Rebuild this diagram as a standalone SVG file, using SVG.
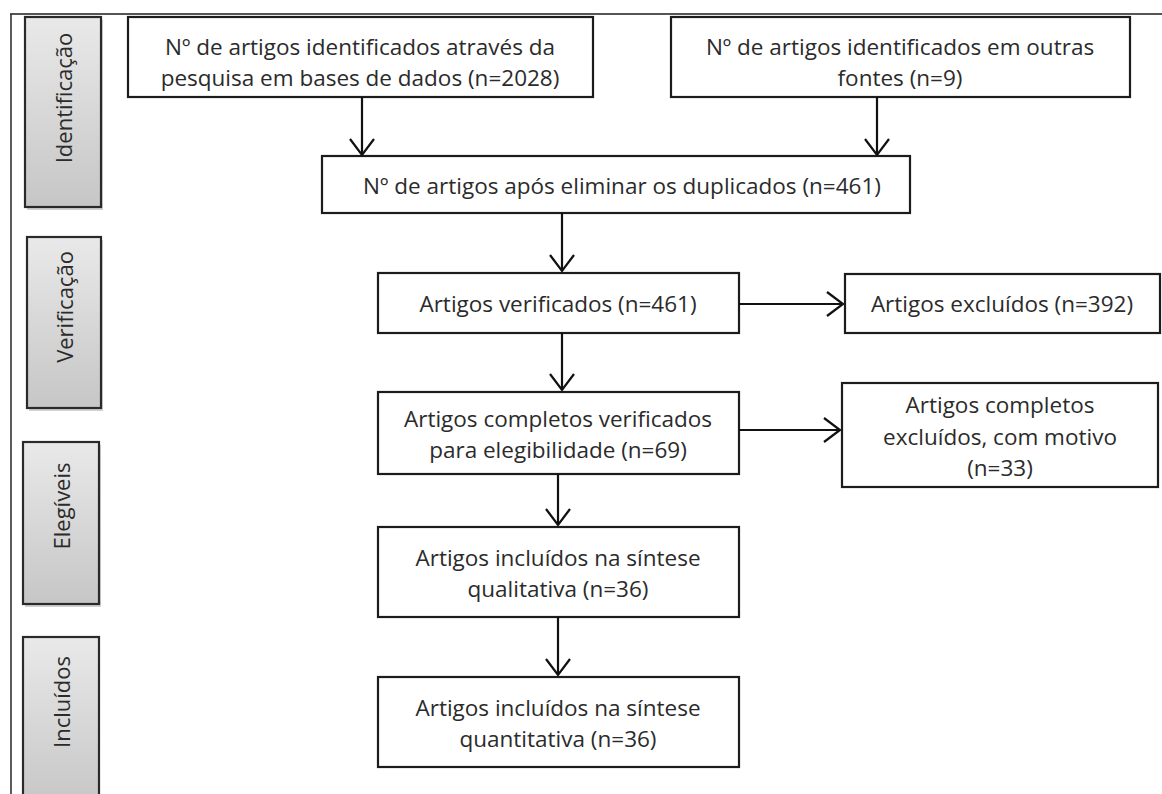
<svg xmlns="http://www.w3.org/2000/svg" width="1162" height="794" viewBox="0 0 1162 794">
<style>
.box{fill:#fff;stroke:#1c1c1c;stroke-width:2.2}
.phase{fill:url(#pg);stroke:#2a2a2a;stroke-width:2.2}
.shadow{fill:#999;opacity:0.45}
.t{font-family:"Open Sans","Liberation Sans",sans-serif;font-size:22.5px;fill:#2b2b2b;text-anchor:middle;dominant-baseline:central}
.pt{font-family:"Open Sans","Liberation Sans",sans-serif;font-size:22px;fill:#2b2b2b;text-anchor:middle;dominant-baseline:central}
.c{stroke:#111;stroke-width:2.2;fill:none}
</style>
<defs>
<linearGradient id="pg" x1="0" y1="0" x2="0" y2="1">
<stop offset="0" stop-color="#e9e9e9"/>
<stop offset="1" stop-color="#c6c6c6"/>
</linearGradient>
<marker id="arr" markerUnits="userSpaceOnUse" markerWidth="24" markerHeight="28" viewBox="-18 -14 24 28" refX="0" refY="0" orient="auto" overflow="visible">
<path d="M-16,-12 L0,0 L-16,12" fill="none" stroke="#111" stroke-width="2.2"/>
</marker>
</defs>
<rect width="1162" height="794" fill="#fff"/>
<g id="frame">
<line x1="10" y1="14" x2="1162" y2="14" stroke="#555" stroke-width="2.2"/>
<line x1="11" y1="14" x2="11" y2="794" stroke="#333" stroke-width="1.6"/>
</g>
<g id="phase-identificacao">
<rect class="shadow" x="27" y="20" width="76" height="190"/>
<rect class="phase" x="25" y="17" width="76" height="190"/>
<text class="pt" transform="translate(63,98) rotate(-90)">Identificação</text>
</g>
<g id="phase-verificacao">
<rect class="shadow" x="29" y="240" width="74" height="171"/>
<rect class="phase" x="27" y="237" width="74" height="171"/>
<text class="pt" transform="translate(64,307) rotate(-90)">Verificação</text>
</g>
<g id="phase-elegiveis">
<rect class="shadow" x="25" y="445" width="76" height="162"/>
<rect class="phase" x="23" y="442" width="76" height="162"/>
<text class="pt" transform="translate(61,506) rotate(-90)">Elegíveis</text>
</g>
<g id="phase-incluidos">
<rect class="phase" x="23" y="637" width="76" height="170"/>
<text class="pt" transform="translate(61,702) rotate(-90)">Incluídos</text>
</g>
<g id="n1">
<rect class="box" x="128" y="17" width="465" height="80"/>
<text class="t" x="360" y="46">Nº de artigos identificados através da</text>
<text class="t" x="360" y="77">pesquisa em bases de dados (n=2028)</text>
</g>
<g id="n2">
<rect class="box" x="671" y="17" width="459" height="80"/>
<text class="t" x="900" y="46">Nº de artigos identificados em outras</text>
<text class="t" x="900" y="77">fontes (n=9)</text>
</g>
<g id="n3">
<rect class="box" x="322" y="156" width="588" height="57"/>
<text class="t" x="622" y="185">Nº de artigos após eliminar os duplicados (n=461)</text>
</g>
<g id="n4">
<rect class="box" x="378" y="273" width="361" height="60"/>
<text class="t" x="558" y="303">Artigos verificados (n=461)</text>
</g>
<g id="n5">
<rect class="box" x="845" y="274" width="315" height="59"/>
<text class="t" x="1002" y="303">Artigos excluídos (n=392)</text>
</g>
<g id="n6">
<rect class="box" x="378" y="392" width="361" height="82"/>
<text class="t" x="558" y="418">Artigos completos verificados</text>
<text class="t" x="558" y="449">para elegibilidade (n=69)</text>
</g>
<g id="n7">
<rect class="box" x="842" y="383" width="316" height="104"/>
<text class="t" x="1000" y="404">Artigos completos</text>
<text class="t" x="1000" y="436">excluídos, com motivo</text>
<text class="t" x="1000" y="467">(n=33)</text>
</g>
<g id="n8">
<rect class="box" x="378" y="527" width="361" height="90"/>
<text class="t" x="558" y="557">Artigos incluídos na síntese</text>
<text class="t" x="558" y="588">qualitativa (n=36)</text>
</g>
<g id="n9">
<rect class="box" x="378" y="677" width="361" height="90"/>
<text class="t" x="558" y="707">Artigos incluídos na síntese</text>
<text class="t" x="558" y="738">quantitativa (n=36)</text>
</g>
<g id="connectors">
<line class="c" x1="362" y1="97" x2="362" y2="155" marker-end="url(#arr)"/>
<line class="c" x1="877" y1="97" x2="877" y2="155" marker-end="url(#arr)"/>
<line class="c" x1="562" y1="213" x2="562" y2="271" marker-end="url(#arr)"/>
<line class="c" x1="739" y1="304" x2="843" y2="304" marker-end="url(#arr)"/>
<line class="c" x1="562" y1="333" x2="562" y2="390" marker-end="url(#arr)"/>
<line class="c" x1="739" y1="430" x2="840" y2="430" marker-end="url(#arr)"/>
<line class="c" x1="558" y1="474" x2="558" y2="525" marker-end="url(#arr)"/>
<line class="c" x1="558" y1="617" x2="558" y2="675" marker-end="url(#arr)"/>
</g>
</svg>
